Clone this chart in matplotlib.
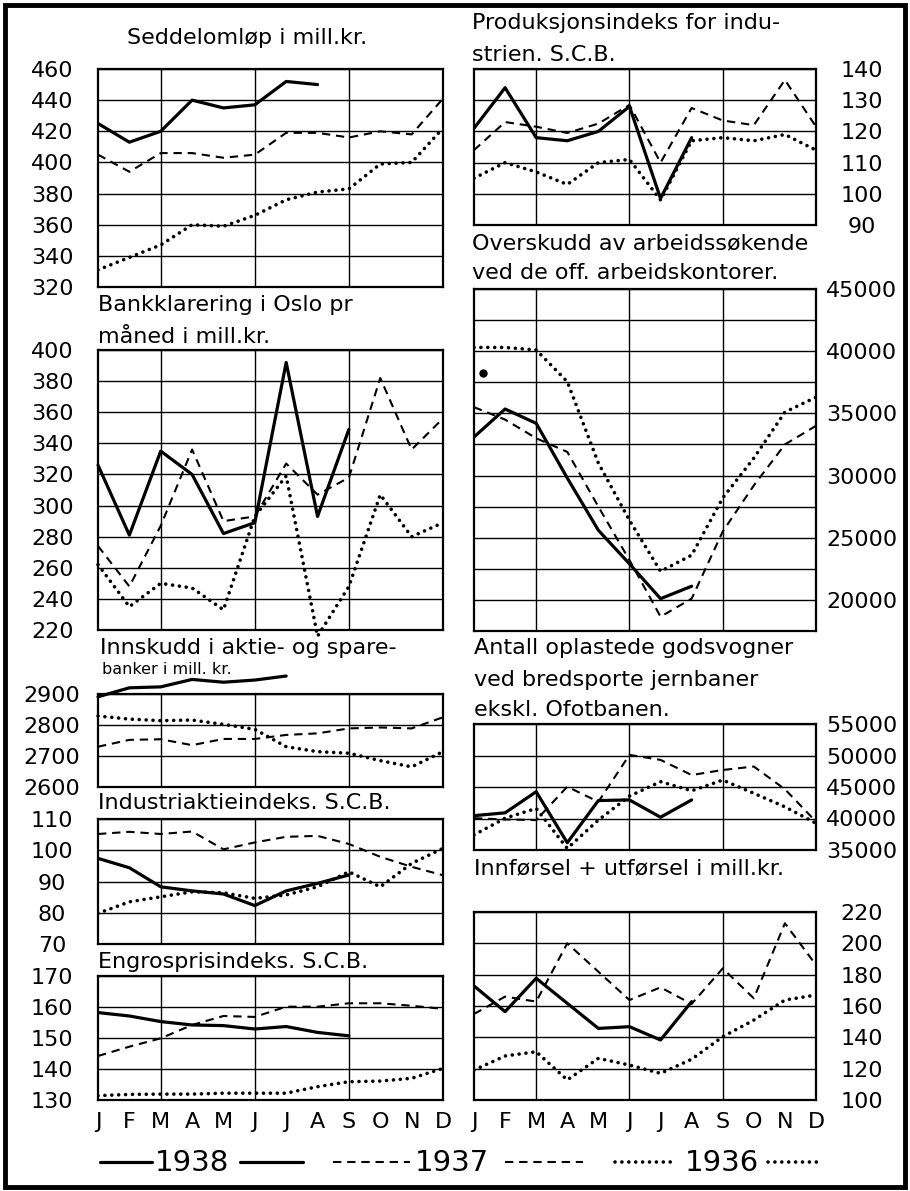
import numpy as np
import matplotlib
matplotlib.use("Agg")
import matplotlib.pyplot as plt
from matplotlib.lines import Line2D
from matplotlib.patches import Rectangle

plt.rcParams['font.family'] = ['DejaVu Sans']

# ------- DATA -------
MONTHS = ['J', 'F', 'M', 'A', 'M', 'J', 'J', 'A', 'S', 'O', 'N', 'D']
YEARS = ['1938', '1937', '1936']

seddel_1938 = [425, 413, 420, 440, 435, 437, 452, 450]
seddel_1937 = [405, 394, 406, 406, 403, 405, 419, 419, 416, 420, 418, 441]
seddel_1936 = [331, 339, 347, 360, 359, 366, 376, 381, 383, 399, 400, 422]

bank_1938 = [326, 281, 335, 320, 282, 289, 392, 293, 349]
bank_1937 = [274, 248, 287, 336, 290, 293, 327, 307, 318, 382, 336, 356]
bank_1936 = [262, 235, 250, 247, 233, 293, 319, 216, 248, 307, 280, 289]

innsk_1938 = [2891, 2920, 2923, 2947, 2938, 2945, 2958]
innsk_1937 = [2730, 2752, 2754, 2735, 2755, 2755, 2768, 2773, 2789, 2792, 2789, 2825]
innsk_1936 = [2829, 2819, 2814, 2816, 2802, 2786, 2730, 2714, 2709, 2685, 2665, 2714]

ind_1938 = [97.4, 94.4, 88.3, 87, 86, 82.3, 87, 89.4, 92.1]
ind_1937 = [105.2, 105.9, 105.2, 106, 100.3, 102.5, 104.3, 104.6, 102, 97.9, 94.7, 92]
ind_1936 = [79.8, 83.5, 85.1, 86.7, 86.4, 84.6, 85.7, 88.3, 93.1, 88.3, 95.8, 100.6]

engros_1938 = [158.2, 157.1, 155.3, 154.2, 154, 152.9, 153.7, 151.8, 150.7]
engros_1937 = [144.2, 147.2, 149.9, 154.2, 157.1, 156.8, 160.1, 160.1, 161.2, 161.2, 160.4, 159.4]
engros_1936 = [131.4, 131.8, 131.9, 131.9, 132.2, 132.2, 132.2, 134.3, 135.9, 136.1, 137, 140.2]

prod_1938 = [121, 134, 118, 117, 120, 128, 98.5, 118]
prod_1937 = [114, 123, 121.5, 119.5, 122.5, 128.5, 110, 127.5, 123.5, 122, 136.5, 121.5]
prod_1936 = [105, 110, 107, 103, 110, 111, 98, 117, 118, 117, 119, 114]

over_1938 = [33100, 35350, 34200, 29800, 25600, 22900, 20100, 21100]
over_1937 = [35500, 34500, 33000, 31900, 27500, 23200, 18650, 20100, 25500, 29200, 32500, 34000]
over_1936 = [40300, 40300, 40100, 37550, 31000, 26400, 22300, 23600, 28200, 31400, 35100, 36300]
over_blot_x = [0.3]
over_blot_y = [38250]

gods_1938 = [40450, 40900, 44250, 36150, 42850, 42950, 40200, 42950]
gods_1937 = [40050, 39850, 39750, 45050, 42650, 50100, 49300, 46900, 47700, 48250, 44650, 39500]
gods_1936 = [37400, 40050, 41600, 35250, 39750, 43550, 45850, 44400, 46100, 44000, 41850, 39250]

handel_1938 = [172.8, 156.4, 177.7, 161.7, 145.7, 146.8, 138.3, 162.8]
handel_1937 = [154.9, 166, 162.8, 200, 181.9, 163.8, 171.9, 161.3, 184, 164.9, 212.8, 186.2]
handel_1936 = [119.1, 128.1, 130.8, 112.8, 126.6, 122.3, 117, 126, 140.4, 151, 163.8, 167]

# ------- LAYOUT -------
W, H = 910, 1191
fig = plt.figure(figsize=(W / 100, H / 100), dpi=100)

STYLE = {
    '1938': dict(color='black', lw=2.3, ls='-', solid_capstyle='round'),
    '1937': dict(color='black', lw=1.5, ls=(0, (4, 2.8))),
    '1936': dict(color='black', lw=2.6, ls=(0, (0.01, 1.9)), dash_capstyle='round'),
}


def px_rect(x0, y0, x1, y1):
    return [x0 / W, 1 - y1 / H, (x1 - x0) / W, (y1 - y0) / H]


def panel(rect, series, ylim, step, label_step, side, months=False, clip=True):
    ax = fig.add_axes(px_rect(*rect))
    for yr, vals in zip(YEARS, series):
        ax.plot(range(len(vals)), vals, clip_on=clip, **STYLE[yr])
    ax.set_xlim(0, 11)
    ax.set_ylim(*ylim)
    # quarter grid lines (March, June, September)
    for q in (2, 5, 8):
        ax.axvline(q, color='black', lw=1.0, zorder=0.5)
    ax.set_xticks(range(12))
    if months:
        ax.set_xticklabels(MONTHS, fontsize=16)
    else:
        ax.set_xticklabels([])
    grid = np.arange(ylim[0], ylim[1] + step / 2, step)
    ax.set_yticks(grid)
    labs = [f'{v:g}' if v % label_step == 0 else '' for v in grid]
    ax.set_yticklabels(labs)
    ax.grid(True, axis='y', color='black', lw=1.0)
    ax.tick_params(axis='y', length=0, labelsize=16, pad=33)
    ax.tick_params(axis='x', length=0, pad=9)
    if side == 'right':
        ax.yaxis.tick_right()
    for lab in ax.get_yticklabels():
        lab.set_horizontalalignment('center')
    for s in ax.spines.values():
        s.set_linewidth(1.6)
    ax.set_axisbelow(True)
    return ax


# left column
panel((98, 69, 443, 287), [seddel_1938, seddel_1937, seddel_1936], (320, 460), 20, 20, 'left')
panel((98, 350, 443, 630), [bank_1938, bank_1937, bank_1936], (220, 400), 20, 20, 'left', clip=False)
panel((98, 694, 443, 787), [innsk_1938, innsk_1937, innsk_1936], (2600, 2900), 100, 100, 'left', clip=False)
panel((98, 819, 443, 944), [ind_1938, ind_1937, ind_1936], (70, 110), 10, 10, 'left')
panel((98, 976, 443, 1100), [engros_1938, engros_1937, engros_1936], (130, 170), 10, 10, 'left', months=True)

# right column
panel((474, 69, 816, 225), [prod_1938, prod_1937, prod_1936], (90, 140), 10, 10, 'right')
ax_over = panel((474, 289, 816, 631), [over_1938, over_1937, over_1936], (17500, 45000), 2500, 5000, 'right')
ax_over.plot(over_blot_x, over_blot_y, 'o', color='black', ms=5)
panel((474, 724, 816, 850), [gods_1938, gods_1937, gods_1936], (35000, 55000), 5000, 5000, 'right')
panel((474, 912, 816, 1100), [handel_1938, handel_1937, handel_1936], (100, 220), 20, 20, 'right', months=True)

# ------- overlay: frame, titles, legend -------
bg = fig.add_axes([0, 0, 1, 1], zorder=-1)
bg.set_xlim(0, W)
bg.set_ylim(H, 0)
bg.axis('off')
bg.add_patch(Rectangle((5, 5), 900, 1182, fill=False, lw=3.5, ec='black'))

titles = [
    (127, 38, "Seddelomløp i mill.kr."),
    (98, 305, "Bankklarering i Oslo pr"),
    (98, 337, "måned i mill.kr."),
    (100, 648, "Innskudd i aktie- og spare-"),
    (98, 803, "Industriaktieindeks. S.C.B."),
    (98, 962, "Engrosprisindeks. S.C.B."),
    (472, 23, "Produksjonsindeks for indu-"),
    (472, 55, "strien. S.C.B."),
    (472, 243, "Overskudd av arbeidssøkende"),
    (472, 273, "ved de off. arbeidskontorer."),
    (474, 648, "Antall oplastede godsvogner"),
    (474, 680, "ved bredsporte jernbaner"),
    (474, 710, "ekskl. Ofotbanen."),
    (474, 868, "Innførsel + utførsel i mill.kr."),
]
for x, y, t in titles:
    bg.text(x, y, t, fontsize=16, ha='left', va='center')
bg.text(102, 670, "banker i mill. kr.", fontsize=11.5, ha='left', va='center')

# legend row
LEG_Y = 1162
legend_items = [
    ('1938', (100, 152), 192, (240, 303)),
    ('1937', (333, 410), 452, (505, 583)),
    ('1936', (615, 675), 722, (768, 822)),
]
for yr, seg1, xc, seg2 in legend_items:
    for seg in (seg1, seg2):
        bg.add_line(Line2D(seg, [LEG_Y, LEG_Y], **STYLE[yr]))
    bg.text(xc, LEG_Y + 1, yr, fontsize=21, ha='center', va='center')

fig.savefig('out.png', dpi=100)
